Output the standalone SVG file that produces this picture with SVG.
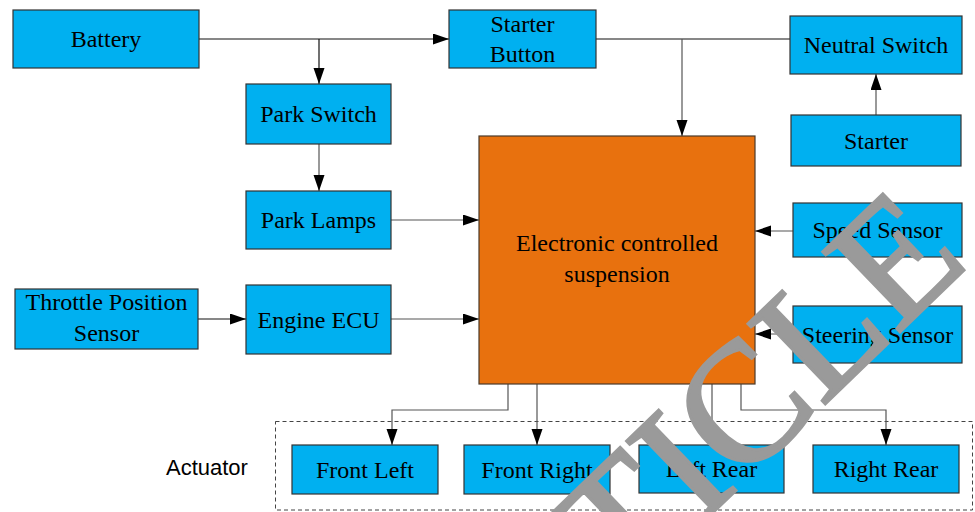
<svg xmlns="http://www.w3.org/2000/svg" width="975" height="512" viewBox="0 0 975 512">
  <style>
    .box { fill: #00B0F0; stroke: #333333; stroke-width: 1.2; }
    .core { fill: #E8710E; stroke: #4a3a2a; stroke-width: 1.2; }
    .lbl { font-family: "Liberation Serif", "Times New Roman", serif; font-size: 24px; fill: #000; text-anchor: middle; }
    .side { font-family: "Liberation Sans", Arial, sans-serif; font-size: 22px; fill: #000; }
    .wire { fill: none; stroke: #111; stroke-width: 1.2; }
    .wire.soft { stroke: #555; }
    .arrow { marker-end: url(#head); }
    .group { fill: none; stroke: #444; stroke-width: 1; stroke-dasharray: 4 3; }
    .stamp { font-family: "Liberation Serif", "Times New Roman", serif; font-size: 170px; fill: #9a9a9a; stroke: #9a9a9a; stroke-width: 3; }
  </style>
  <defs>
    <marker id="head" markerUnits="userSpaceOnUse" markerWidth="16" markerHeight="12" refX="16" refY="5.5" orient="auto">
      <path d="M0,0 L16,5.5 L0,11 z" fill="#000"/>
    </marker>
  </defs>

  <rect width="975" height="512" fill="#ffffff"/>

  <!-- actuator grouping -->
  <g id="actuator-group">
    <rect class="group" x="275.5" y="421.5" width="697" height="88.5"/>
    <text class="side" x="166" y="475">Actuator</text>
  </g>

  <!-- connectors -->
  <g id="connectors">
    <path class="wire arrow" d="M199,39 H449"/>
    <path class="wire arrow" d="M319,39 V84"/>
    <path class="wire soft arrow" d="M319,144 V191"/>
    <path class="wire soft arrow" d="M391,220 H479"/>
    <path class="wire arrow" d="M198,319 H246"/>
    <path class="wire soft arrow" d="M391,319 H479"/>
    <path class="wire" d="M596,39 H790"/>
    <path class="wire soft arrow" d="M682,39 V136"/>
    <path class="wire soft arrow" d="M876,115 V74"/>
    <path class="wire soft arrow" d="M793,231 H755"/>
    <path class="wire soft arrow" d="M793,334 H755"/>
    <path class="wire soft arrow" d="M508,384 V410 H392 V445"/>
    <path class="wire soft arrow" d="M537,384 V445"/>
    <path class="wire soft arrow" d="M712,384 V445"/>
    <path class="wire soft arrow" d="M741,384 V410 H886 V445"/>
  </g>

  <!-- nodes -->
  <g id="battery">
    <rect class="box" x="13" y="10" width="186" height="58"/>
    <text class="lbl" x="106" y="47">Battery</text>
  </g>
  <g id="starter-button">
    <rect class="box" x="449" y="10" width="147" height="58"/>
    <text class="lbl" x="522.5" y="32">Starter</text>
    <text class="lbl" x="522.5" y="62">Button</text>
  </g>
  <g id="neutral-switch">
    <rect class="box" x="790" y="16" width="172" height="58"/>
    <text class="lbl" x="876" y="53">Neutral Switch</text>
  </g>
  <g id="park-switch">
    <rect class="box" x="246" y="84" width="145" height="60"/>
    <text class="lbl" x="318.5" y="122">Park Switch</text>
  </g>
  <g id="starter">
    <rect class="box" x="791" y="115" width="170" height="51"/>
    <text class="lbl" x="876" y="148.5">Starter</text>
  </g>
  <g id="park-lamps">
    <rect class="box" x="246" y="191" width="145" height="58"/>
    <text class="lbl" x="318.5" y="228">Park Lamps</text>
  </g>
  <g id="suspension-ecu">
    <rect class="core" x="479" y="136" width="276" height="248"/>
    <text class="lbl" x="617" y="251">Electronic controlled</text>
    <text class="lbl" x="617" y="282">suspension</text>
  </g>
  <g id="speed-sensor">
    <rect class="box" x="793" y="203" width="169" height="54"/>
    <text class="lbl" x="877.5" y="238">Speed Sensor</text>
  </g>
  <g id="throttle-sensor">
    <rect class="box" x="15" y="289" width="183" height="60"/>
    <text class="lbl" x="106.5" y="310">Throttle Position</text>
    <text class="lbl" x="106.5" y="341">Sensor</text>
  </g>
  <g id="engine-ecu">
    <rect class="box" x="246" y="285" width="145" height="69"/>
    <text class="lbl" x="318.5" y="327.5">Engine ECU</text>
  </g>
  <g id="steering-sensor">
    <rect class="box" x="793" y="306" width="169" height="57"/>
    <text class="lbl" x="877.5" y="342.5">Steering Sensor</text>
  </g>
  <g id="front-left">
    <rect class="box" x="292" y="445" width="146" height="49"/>
    <text class="lbl" x="365" y="477.5">Front Left</text>
  </g>
  <g id="front-right">
    <rect class="box" x="464" y="445" width="146" height="49"/>
    <text class="lbl" x="537" y="477.5">Front Right</text>
  </g>
  <g id="left-rear">
    <rect class="box" x="639" y="445" width="145" height="48"/>
    <text class="lbl" x="711.5" y="477">Left Rear</text>
  </g>
  <g id="right-rear">
    <rect class="box" x="813" y="445" width="146" height="48"/>
    <text class="lbl" x="886" y="477">Right Rear</text>
  </g>

  <!-- overprinted stamp -->
  <text class="stamp" transform="translate(462.3,754.5) rotate(-44)" x="0" y="0">ARTICLE</text>
</svg>
